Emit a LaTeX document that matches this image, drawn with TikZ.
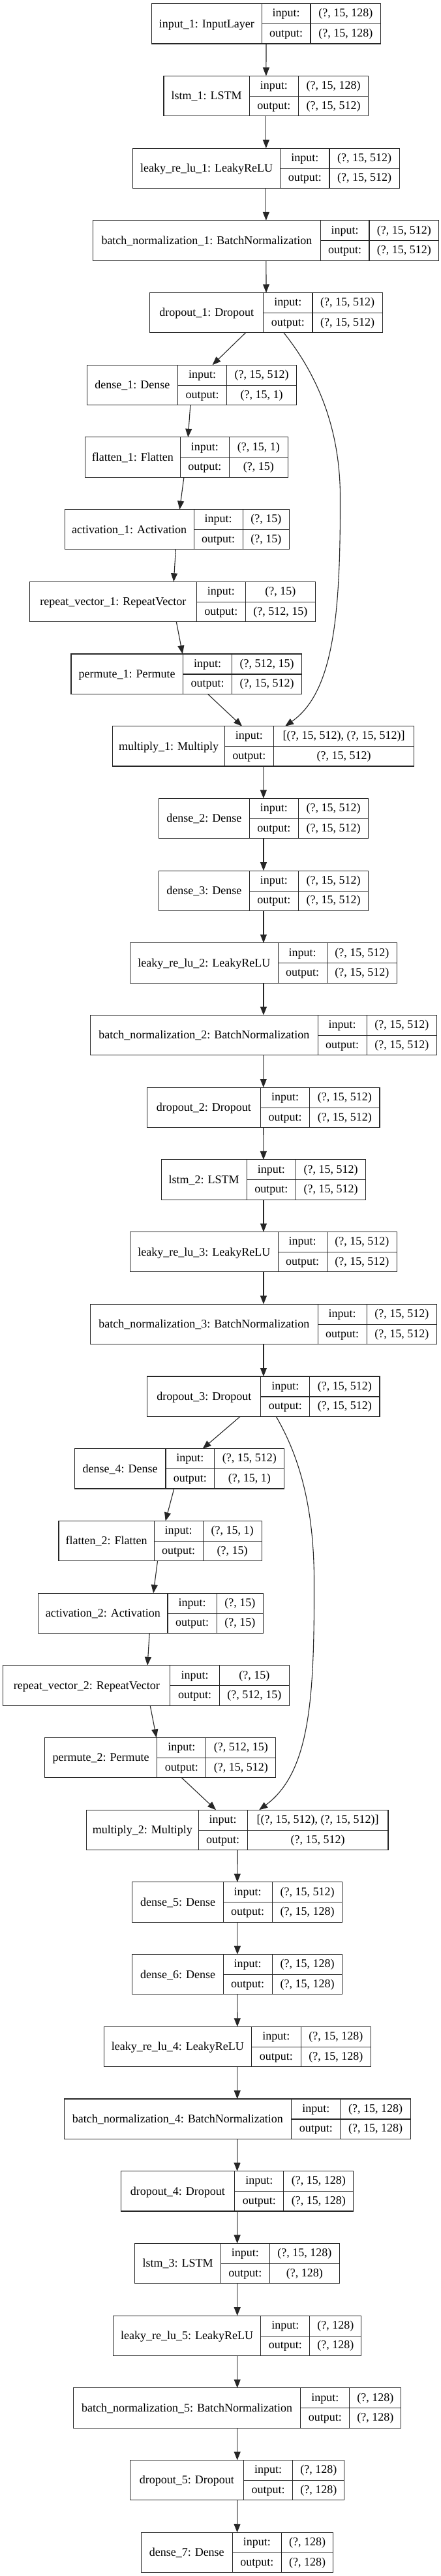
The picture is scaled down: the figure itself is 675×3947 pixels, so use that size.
\documentclass[tikz,border=0pt]{standalone}
\usepackage{fontspec}
\setmainfont{Liberation Serif}
\usetikzlibrary{arrows.meta}
\tikzset{
 box/.style={draw=black!85, line width=1.1pt, inner sep=0pt, outer sep=0pt, rectangle},
 lbl/.style={inner sep=0pt, anchor=base, font=\fontsize{18}{21}\selectfont},
 edge/.style={draw=black!85, line width=1.1pt, -{Triangle[length=13pt,width=10pt]}},
 sepline/.style={draw=black!85, line width=1.1pt},
}
\newcommand\layer[9]{%
 \pgfmathsetmacro\ltop{5.7+110.7*#2}%
 \pgfmathsetmacro\lbot{\ltop+61.3}%
 \pgfmathsetmacro\lmid{\ltop+31}%
 \pgfmathsetmacro\lcy{\ltop+30.65}%
 \pgfmathsetmacro\lcx{(#3+#6)/2}%
 \pgfmathsetmacro\lw{#6-#3}%
 \pgfmathsetmacro\lna{(#3+#4)/2}%
 \pgfmathsetmacro\lio{(#4+#5)/2}%
 \pgfmathsetmacro\lva{(#5+#6)/2}%
 \pgfmathsetmacro\lyn{\lcy+5.8}%
 \pgfmathsetmacro\lyi{(\ltop+\lmid)/2+4.7}%
 \pgfmathsetmacro\lyo{(\lmid+\lbot)/2+4.7}%
 \node[box, minimum width=\lw pt, minimum height=61.3pt] (#1) at (\lcx,\lcy) {};
 \draw[sepline] (#4,\ltop) -- (#4,\lbot) (#5,\ltop) -- (#5,\lbot) (#4,\lmid) -- (#6,\lmid);
 \node[lbl] (#1n) at (\lna,\lyn) {#7};
 \node[lbl] (#1i) at (\lio,\lyi) {input:};
 \node[lbl] (#1o) at (\lio,\lyo) {output:};
 \node[lbl] (#1a) at (\lva,\lyi) {#8};
 \node[lbl] (#1b) at (\lva,\lyo) {#9};
}
\begin{document}
\begin{tikzpicture}[x=1pt,y=-1pt]
\useasboundingbox (0,0) rectangle (675,3947);
\fill[white] (0,0) rectangle (675,3947);
\layer{l0}{0}{232.4}{401.1}{476}{583.7}{input\_1: InputLayer}{(?, 15, 128)}{(?, 15, 128)}
\layer{l1}{1}{251}{382.1}{457.4}{564.7}{lstm\_1: LSTM}{(?, 15, 128)}{(?, 15, 512)}
\layer{l2}{2}{203.4}{429.7}{505}{612.3}{leaky\_re\_lu\_1: LeakyReLU}{(?, 15, 512)}{(?, 15, 512)}
\layer{l3}{3}{142.8}{491.1}{566}{672.9}{batch\_normalization\_1: BatchNormalization}{(?, 15, 512)}{(?, 15, 512)}
\layer{l4}{4}{229.8}{403.7}{479}{586.3}{dropout\_1: Dropout}{(?, 15, 512)}{(?, 15, 512)}
\layer{l5}{5}{133.3}{272.6}{347.5}{454.8}{dense\_1: Dense}{(?, 15, 512)}{(?, 15, 1)}
\layer{l6}{6}{130.7}{276.1}{351.4}{441.4}{flatten\_1: Flatten}{(?, 15, 1)}{(?, 15)}
\layer{l7}{7}{99.1}{297.3}{372.1}{443.5}{activation\_1: Activation}{(?, 15)}{(?, 15)}
\layer{l8}{8}{45.4}{301.2}{376.5}{483.3}{repeat\_vector\_1: RepeatVector}{(?, 15)}{(?, 512, 15)}
\layer{l9}{9}{109}{280.4}{355.7}{462.6}{permute\_1: Permute}{(?, 512, 15)}{(?, 15, 512)}
\layer{l10}{10}{172.7}{344.4}{419.3}{634.8}{multiply\_1: Multiply}{[(?, 15, 512), (?, 15, 512)]}{(?, 15, 512)}
\layer{l11}{11}{243.2}{382.5}{457.4}{564.7}{dense\_2: Dense}{(?, 15, 512)}{(?, 15, 512)}
\layer{l12}{12}{243.2}{382.5}{457.4}{564.7}{dense\_3: Dense}{(?, 15, 512)}{(?, 15, 512)}
\layer{l13}{13}{199.5}{426.2}{501.1}{608.4}{leaky\_re\_lu\_2: LeakyReLU}{(?, 15, 512)}{(?, 15, 512)}
\layer{l14}{14}{138.5}{487.2}{562.1}{669.4}{batch\_normalization\_2: BatchNormalization}{(?, 15, 512)}{(?, 15, 512)}
\layer{l15}{15}{225.4}{399.4}{474.7}{582}{dropout\_2: Dropout}{(?, 15, 512)}{(?, 15, 512)}
\layer{l16}{16}{247.1}{378.2}{453.5}{560.8}{lstm\_2: LSTM}{(?, 15, 512)}{(?, 15, 512)}
\layer{l17}{17}{199.5}{426.2}{501.1}{608.4}{leaky\_re\_lu\_3: LeakyReLU}{(?, 15, 512)}{(?, 15, 512)}
\layer{l18}{18}{138.5}{487.2}{562.1}{669.4}{batch\_normalization\_3: BatchNormalization}{(?, 15, 512)}{(?, 15, 512)}
\layer{l19}{19}{225.9}{399.8}{474.7}{582}{dropout\_3: Dropout}{(?, 15, 512)}{(?, 15, 512)}
\layer{l20}{20}{114.2}{254}{328.9}{435.7}{dense\_4: Dense}{(?, 15, 512)}{(?, 15, 1)}
\layer{l21}{21}{90}{236.3}{311.1}{401.1}{flatten\_2: Flatten}{(?, 15, 1)}{(?, 15)}
\layer{l22}{22}{58.8}{257}{332.3}{403.3}{activation\_2: Activation}{(?, 15)}{(?, 15)}
\layer{l23}{23}{4.8}{260.9}{336.2}{443.5}{repeat\_vector\_2: RepeatVector}{(?, 15)}{(?, 512, 15)}
\layer{l24}{24}{68.8}{240.6}{315.9}{422.8}{permute\_2: Permute}{(?, 512, 15)}{(?, 15, 512)}
\layer{l25}{25}{132.4}{304.2}{379.1}{595}{multiply\_2: Multiply}{[(?, 15, 512), (?, 15, 512)]}{(?, 15, 512)}
\layer{l26}{26}{202.9}{342.3}{417.1}{524.9}{dense\_5: Dense}{(?, 15, 512)}{(?, 15, 128)}
\layer{l27}{27}{202.9}{342.3}{417.1}{524.9}{dense\_6: Dense}{(?, 15, 128)}{(?, 15, 128)}
\layer{l28}{28}{159.2}{385.5}{461.3}{568.2}{leaky\_re\_lu\_4: LeakyReLU}{(?, 15, 128)}{(?, 15, 128)}
\layer{l29}{29}{98.2}{446.6}{521.9}{629.2}{batch\_normalization\_4: BatchNormalization}{(?, 15, 128)}{(?, 15, 128)}
\layer{l30}{30}{185.2}{359.6}{434.9}{541.8}{dropout\_4: Dropout}{(?, 15, 128)}{(?, 15, 128)}
\layer{l31}{31}{206.8}{338.4}{413.2}{520.6}{lstm\_3: LSTM}{(?, 15, 128)}{(?, 128)}
\layer{l32}{32}{173.5}{399.8}{474.7}{553.9}{leaky\_re\_lu\_5: LeakyReLU}{(?, 128)}{(?, 128)}
\layer{l33}{33}{112.5}{460.8}{535.7}{614.9}{batch\_normalization\_5: BatchNormalization}{(?, 128)}{(?, 128)}
\layer{l34}{34}{199.5}{373.4}{448.7}{527.9}{dropout\_5: Dropout}{(?, 128)}{(?, 128)}
\layer{l35}{35}{216.4}{356.1}{431.4}{510.6}{dense\_7: Dense}{(?, 128)}{(?, 128)}
\foreach \i [evaluate=\i as \j using int(\i+1)] in {0,...,34} {\draw[edge] (l\i) -- (l\j);}
\draw[edge] ([xshift=26.9pt]l4.south) .. controls (475,560) and (521,640) .. (521.5,760)
  .. controls (522,940) and (512,1060) .. ([xshift=33.3pt]l10.north);
\draw[edge] ([xshift=19.2pt]l19.south) .. controls (455,2225) and (481,2300) .. (481.5,2420)
  .. controls (482,2600) and (476,2715) .. ([xshift=33.5pt]l25.north);
\end{tikzpicture}
\end{document}
